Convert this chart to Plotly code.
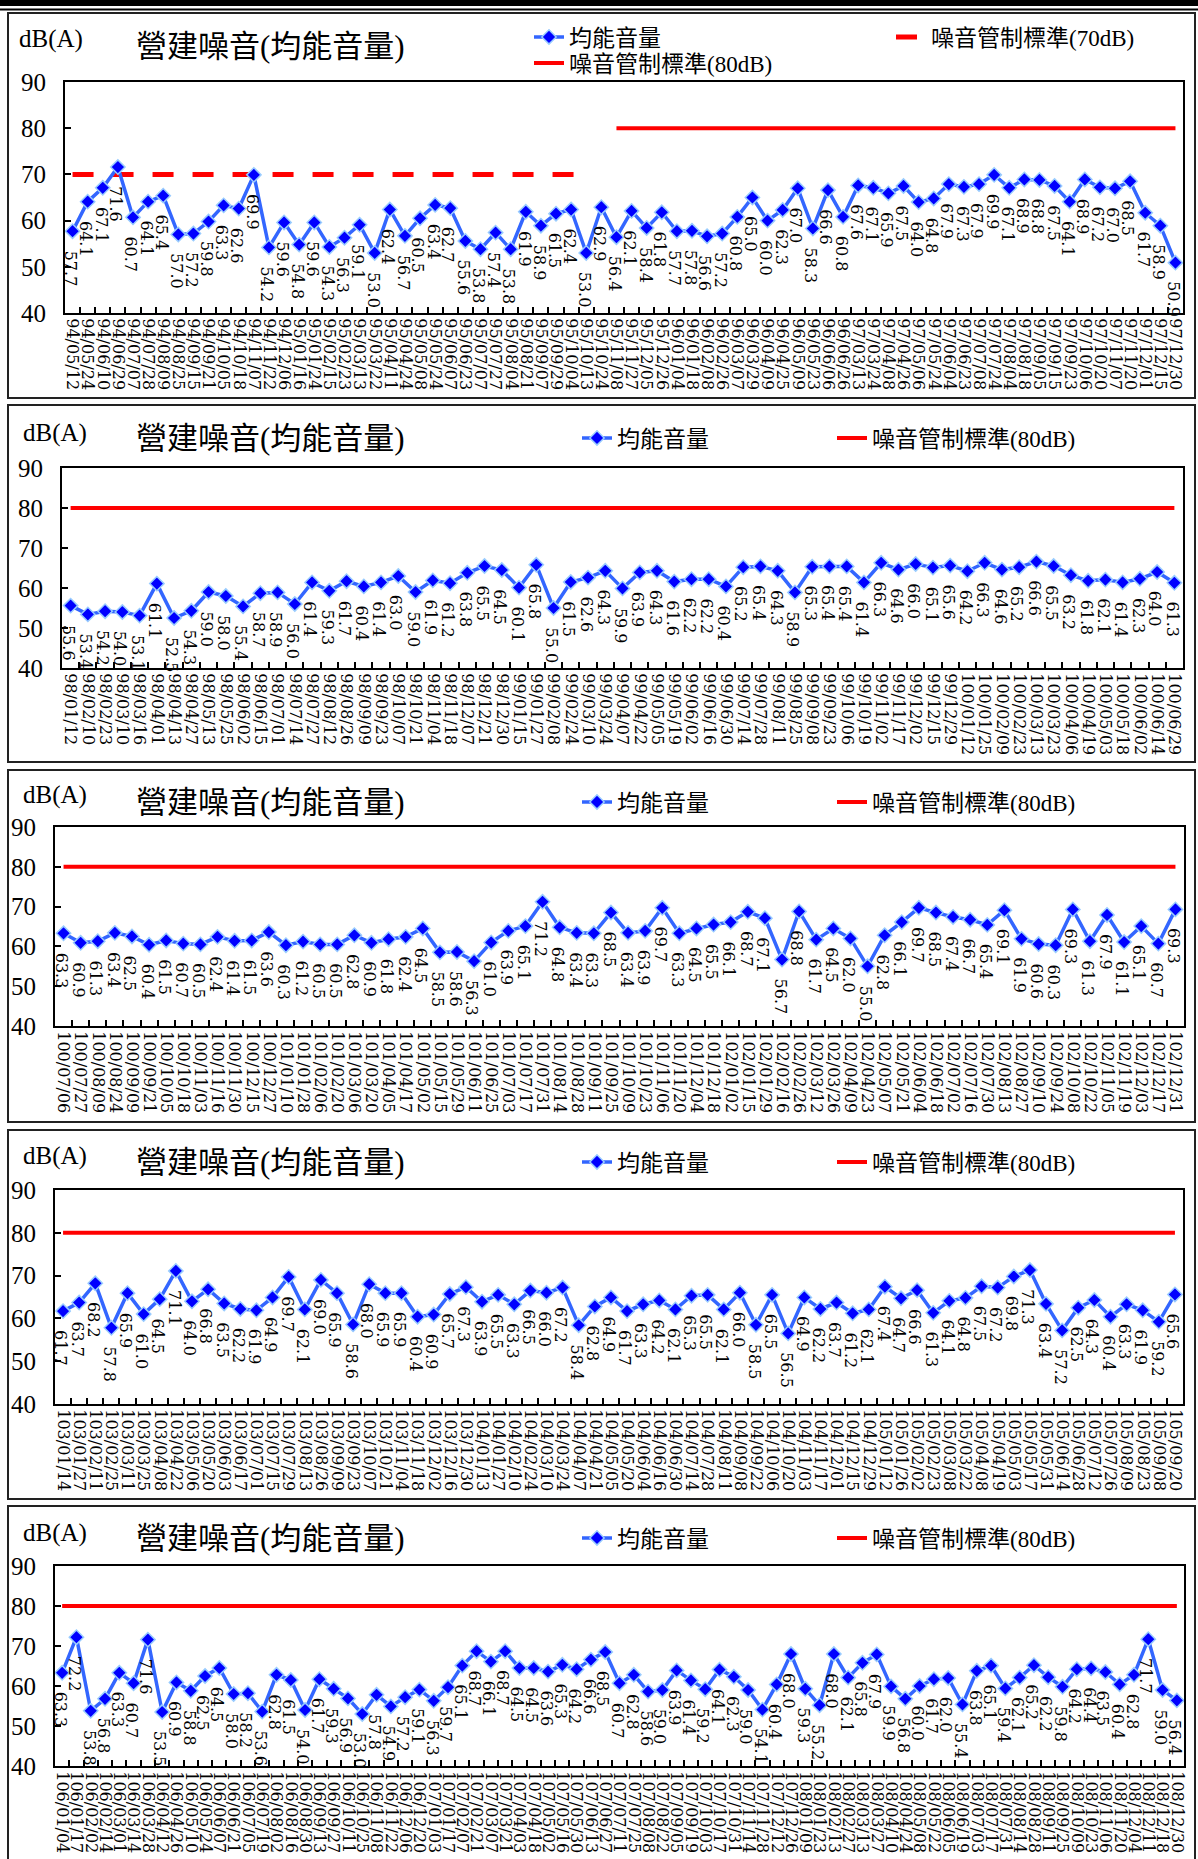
import plotly.graph_objects as go

W, H = 1198, 1859

# ---------------- data ----------------
dates1 = ["94/05/12","94/05/24","94/06/10","94/06/29","94/07/07","94/07/28","94/08/09","94/08/25","94/09/15","94/09/21",
          "94/10/05","94/10/18","94/11/07","94/11/22","94/12/06","95/01/16","95/01/24","95/02/15","95/02/23","95/03/13",
          "95/03/22","95/04/11","95/04/24","95/05/08","95/05/24","95/06/07","95/06/23","95/07/07","95/07/27","95/08/04",
          "95/08/21","95/09/07","95/09/29","95/10/04","95/10/13","95/10/24",
          "95/11/08","95/11/27","95/12/05","95/12/26","96/01/04","96/01/18","96/02/08","96/02/26","96/03/07","96/03/29",
          "96/04/09","96/04/25","96/05/09","96/05/23","96/06/06","96/06/26","97/03/13","97/03/24","97/04/08","97/04/26",
          "97/05/06","97/05/24","97/06/04","97/06/23","97/07/08","97/07/24","97/08/04","97/08/18","97/09/05","97/09/15",
          "97/09/23","97/10/06","97/10/20","97/11/07","97/11/20","97/12/01","97/12/15","97/12/30"]
vals1 = [57.7,64.1,67.1,71.6,60.7,64.1,65.4,57.0,57.2,59.8,63.3,62.6,69.9,54.2,59.6,54.8,59.6,54.3,56.3,59.1,
         53.0,62.4,56.7,60.5,63.4,62.7,55.6,53.8,57.4,53.8,61.9,58.9,61.5,62.4,53.0,62.9,
         56.4,62.1,58.4,61.8,57.7,57.8,56.6,57.2,60.8,65.0,60.0,62.3,67.0,58.3,66.6,60.8,67.6,67.1,65.9,67.5,
         64.0,64.8,67.9,67.3,67.9,69.9,67.1,68.9,68.8,67.5,64.1,68.9,67.2,67.0,68.5,61.7,58.9,50.9]
std70_1 = [70]*35 + [None]*39
std80_1 = [None]*36 + [80]*38

dates2 = ["98/01/12","98/02/10","98/02/23","98/03/10","98/03/16","98/04/01","98/04/13","98/04/27","98/05/13","98/05/25",
          "98/06/02","98/06/15","98/07/01","98/07/14","98/07/27","98/08/12","98/08/26","98/09/09","98/09/23","98/10/07",
          "98/10/21","98/11/04","98/11/18","98/12/07","98/12/21","98/12/30","99/01/15","99/01/27","99/02/08","99/02/24",
          "99/03/10","99/03/24","99/04/07","99/04/22","99/05/05","99/05/19","99/06/02","99/06/16","99/06/30","99/07/14",
          "99/07/28","99/08/11","99/08/25","99/09/08","99/09/23","99/10/06","99/10/19","99/11/02","99/11/17","99/12/02",
          "99/12/15","99/12/29","100/01/12","100/01/25","100/02/09","100/02/23","100/03/13","100/03/23","100/04/06","100/04/19",
          "100/05/03","100/05/18","100/06/02","100/06/14","100/06/29"]
vals2 = [55.6,53.4,54.2,54.0,53.1,61.1,52.5,54.3,59.0,58.0,55.4,58.7,58.9,56.0,61.4,59.3,61.7,60.4,61.4,63.0,
         59.0,61.9,61.2,63.8,65.5,64.5,60.1,65.8,55.0,61.5,62.6,
         64.3,59.9,63.9,64.3,61.6,62.2,62.2,60.4,65.2,65.4,64.3,58.9,65.3,65.4,65.4,61.4,66.3,64.6,66.0,65.1,
         65.6,64.2,66.3,64.6,65.2,66.6,65.5,63.2,61.8,62.1,61.4,62.3,64.0,61.3]

dates3 = ["100/07/06","100/07/27","100/08/09","100/08/24","100/09/09","100/09/21","100/10/05","100/10/18","100/11/03","100/11/16",
          "100/11/30","100/12/15","100/12/27","101/01/10","101/01/28","101/02/06","101/02/20","101/03/06","101/03/20","101/04/05",
          "101/04/17","101/05/02","101/05/15","101/05/29","101/06/11","101/06/25","101/07/03","101/07/17","101/07/31","101/08/14",
          "101/08/28","101/09/11","101/09/25","101/10/09","101/10/23","101/11/06","101/11/20","101/12/04","101/12/18","102/01/02",
          "102/01/15","102/01/29","102/02/16","102/02/26","102/03/12","102/03/26","102/04/09","102/04/23","102/05/07","102/05/21",
          "102/06/04","102/06/18","102/07/02","102/07/16","102/07/30","102/08/13","102/08/27","102/09/10","102/09/24","102/10/08",
          "102/10/22","102/11/05","102/11/19","102/12/03","102/12/17","102/12/31"]
vals3 = [63.3,60.9,61.3,63.4,62.5,60.4,61.5,60.7,60.5,62.4,61.4,61.5,63.6,60.3,61.2,60.5,60.5,62.8,60.9,61.8,
         62.4,64.5,58.5,58.6,56.3,61.0,63.9,65.1,71.2,64.8,63.4,63.3,68.5,63.4,63.9,69.7,63.3,64.5,65.5,66.1,
         68.7,67.1,56.7,68.8,61.7,64.5,62.0,55.0,62.8,66.1,69.7,68.5,67.4,66.7,65.4,69.1,61.9,60.6,60.3,69.3,
         61.3,67.9,61.1,65.1,60.7,69.3]

dates4 = ["103/01/14","103/01/27","103/02/11","103/02/25","103/03/11","103/03/25","103/04/08","103/04/22","103/05/06","103/05/20",
          "103/06/03","103/06/17","103/07/01","103/07/15","103/07/29","103/08/13","103/08/26","103/09/09","103/09/23","103/10/07",
          "103/10/21","103/11/04","103/11/18","103/12/02","103/12/16","103/12/30","104/01/13","104/01/27","104/02/10","104/02/24",
          "104/03/10","104/03/24","104/04/07","104/04/21","104/05/05","104/05/20","104/06/04","104/06/16","104/06/30","104/07/14",
          "104/07/28","104/08/11","104/09/08","104/09/22","104/10/06","104/10/20","104/11/03","104/11/17","104/12/01","104/12/15",
          "104/12/29","105/01/12","105/01/26","105/02/02","105/02/23","105/03/08","105/03/22","105/04/08","105/04/19","105/05/03",
          "105/05/17","105/05/31","105/06/14","105/06/28","105/07/12","105/07/26","105/08/09","105/08/23","105/09/08","105/09/20"]
vals4 = [61.7,63.7,68.2,57.8,65.9,61.0,64.5,71.1,64.0,66.8,63.5,62.2,61.9,64.9,69.7,62.1,69.0,65.9,58.6,68.0,
         65.9,65.9,60.4,60.9,65.7,67.3,63.9,65.5,63.3,66.5,66.0,67.2,58.4,62.8,64.9,61.7,63.3,64.2,62.1,65.3,
         65.5,62.1,66.0,58.5,65.5,56.5,64.9,62.2,63.7,61.2,62.1,67.4,64.7,66.6,61.3,64.1,64.8,67.5,67.2,69.8,
         71.3,63.4,57.2,62.5,64.3,60.4,63.3,61.9,59.2,65.6]

dates5 = ["106/01/04","106/01/17","106/02/02","106/02/14","106/03/01","106/03/14","106/03/28","106/04/12","106/04/26","106/05/10",
          "106/05/24","106/06/07","106/06/21","106/07/05","106/07/19","106/08/02","106/08/16","106/08/30","106/09/13","106/09/27",
          "106/10/11","106/10/25","106/11/08","106/11/22","106/12/06","106/12/20","107/01/03","107/01/17","107/02/07","107/02/21",
          "107/03/07","107/03/21","107/04/03","107/04/18","107/05/02","107/05/16","107/05/30","107/06/13","107/06/27","107/07/11",
          "107/07/25","107/08/08","107/08/22","107/09/05","107/09/19","107/10/03","107/10/17","107/10/31","107/11/14","107/11/28",
          "107/12/12","107/12/26","108/01/09","108/01/23","108/02/13","108/02/27","108/03/13","108/03/27","108/04/10","108/04/24",
          "108/05/08","108/05/22","108/06/05","108/06/19","108/07/03","108/07/17","108/07/31","108/08/14","108/08/28","108/09/11",
          "108/09/25","108/10/09","108/10/23","108/11/06","108/11/20","108/12/04","108/12/11","108/12/18","108/12/30"]
vals5 = [63.3,72.2,53.8,56.8,63.3,60.7,71.6,53.5,60.9,58.8,62.5,64.5,58.0,58.2,53.6,62.8,61.5,54.0,61.7,59.3,
         56.9,53.0,57.8,54.9,57.2,59.1,56.3,59.7,65.1,68.7,66.1,68.7,64.5,64.5,63.6,65.3,64.2,66.6,
         68.5,60.7,62.8,58.6,59.0,63.9,61.4,59.2,64.1,62.3,59.0,54.1,60.4,68.0,59.3,55.2,68.0,62.1,65.8,67.9,
         59.9,56.8,60.0,61.7,62.0,55.4,63.8,65.1,59.4,62.1,65.2,62.2,59.8,64.2,64.4,63.5,60.4,62.8,71.7,59.0,56.4]

y_ticks = [40, 50, 60, 70, 80, 90]
title_text = "營建噪音(均能音量)"
unit_text = "dB(A)"
name_leq = "均能音量"
name_70 = "噪音管制標準(70dB)"
name_80 = "噪音管制標準(80dB)"

# ---------------- helpers ----------------
def px(x):
    return x / W

def py(y):
    return 1 - y / H

CJK = "Liberation Serif, Noto Sans CJK TC"
LINE_BLUE = "#3366FF"
MARK_BLUE = "#0000FF"
MARK_EDGE = "#99CCFF"
RED = "#FF0000"

panels = [
    dict(dates=dates1, vals=vals1, std80=std80_1, std70=std70_1,
         xd=(65, 1183), yd=(82, 313), frame=(13, 398), unit_y=39, title_y=47,
         leg_leq=(529, 37), leg_80=(529, 63), leg_70=(891, 37)),
    dict(dates=dates2, vals=vals2, std80=[80]*len(vals2), std70=None,
         xd=(62, 1183), yd=(468, 668), frame=(405, 762), unit_y=433, title_y=438,
         leg_leq=(577, 438), leg_80=(832, 438)),
    dict(dates=dates3, vals=vals3, std80=[80]*len(vals3), std70=None,
         xd=(55, 1184), yd=(827, 1026), frame=(770, 1122), unit_y=795, title_y=802,
         leg_leq=(577, 802), leg_80=(832, 802)),
    dict(dates=dates4, vals=vals4, std80=[80]*len(vals4), std70=None,
         xd=(55, 1183), yd=(1190, 1404), frame=(1130, 1499), unit_y=1156, title_y=1162,
         leg_leq=(577, 1162), leg_80=(832, 1162)),
    dict(dates=dates5, vals=vals5, std80=[80]*len(vals5), std70=None,
         xd=(55, 1184), yd=(1566, 1766), frame=(1506, 1870), unit_y=1533, title_y=1538,
         leg_leq=(577, 1538), leg_80=(832, 1538)),
]

fig = go.Figure()
layout = dict(width=W, height=H, autosize=False,
              margin=dict(l=0, r=0, t=0, b=0, pad=0),
              paper_bgcolor="white", plot_bgcolor="white",
              showlegend=True)
annotations = []
shapes = []

# top decorative bars
shapes.append(dict(type="rect", xref="paper", yref="paper", x0=0, x1=1, y0=py(6), y1=1,
                   fillcolor="black", line=dict(width=0), layer="above"))
shapes.append(dict(type="line", xref="paper", yref="paper", x0=0, x1=1, y0=py(9.5), y1=py(9.5),
                   line=dict(color="black", width=2), layer="above"))

leg_count = 0

def new_legend(pos):
    global leg_count
    leg_count += 1
    name = "legend" if leg_count == 1 else f"legend{leg_count}"
    layout[name] = dict(x=px(pos[0]), y=py(pos[1]), xanchor="left", yanchor="middle",
                        orientation="v", bgcolor="rgba(0,0,0,0)", borderwidth=0,
                        itemwidth=30, tracegroupgap=0,
                        font=dict(family=CJK, size=23, color="black"))
    return name

for i, p in enumerate(panels):
    k = i + 1
    xa = "x" if k == 1 else f"x{k}"
    ya = "y" if k == 1 else f"y{k}"
    xkey = "xaxis" if k == 1 else f"xaxis{k}"
    ykey = "yaxis" if k == 1 else f"yaxis{k}"
    n = len(p["dates"])
    assert len(p["vals"]) == n, (k, n, len(p["vals"]))

    layout[xkey] = dict(domain=[px(p["xd"][0]), px(p["xd"][1])], anchor=ya,
                        type="category", categoryorder="array", categoryarray=p["dates"],
                        range=[-0.5, n - 0.5], tickmode="linear", tick0=0, dtick=1,
                        showline=True, mirror=True, linecolor="black", linewidth=2,
                        ticks="inside", ticklen=6, tickwidth=1.5, tickcolor="black",
                        tickson="boundaries", tickangle=90,
                        tickfont=dict(family="DejaVu Serif", size=16, color="black"),
                        showgrid=False, zeroline=False, fixedrange=True, automargin=False)
    layout[ykey] = dict(domain=[py(p["yd"][1]), py(p["yd"][0])], anchor=xa,
                        range=[40, 90], tickmode="array", tickvals=y_ticks,
                        ticktext=[str(t) for t in y_ticks],
                        showline=True, mirror=True, linecolor="black", linewidth=2,
                        ticks="inside", ticklen=6, tickwidth=1.5, tickcolor="black",
                        tickfont=dict(family="Liberation Serif", size=25, color="black"),
                        ticklabelstandoff=12,
                        showgrid=False, zeroline=False, fixedrange=True, automargin=False)

    leg_leq = new_legend(p["leg_leq"])
    if p["std70"] is not None:
        leg70 = new_legend(p["leg_70"])
    leg80 = new_legend(p["leg_80"])

    if p["std70"] is not None:
        fig.add_trace(go.Scatter(x=p["dates"], y=p["std70"], xaxis=xa, yaxis=ya, mode="lines",
                                 name=name_70, legend=leg70, connectgaps=False,
                                 line=dict(color=RED, width=5, dash="21px,19px"),
                                 hoverinfo="skip"))
    fig.add_trace(go.Scatter(x=p["dates"], y=p["std80"], xaxis=xa, yaxis=ya, mode="lines",
                             name=name_80, legend=leg80, connectgaps=False,
                             line=dict(color=RED, width=4), hoverinfo="skip"))
    fig.add_trace(go.Scatter(x=p["dates"], y=p["vals"], xaxis=xa, yaxis=ya, mode="lines+markers",
                             name=name_leq, legend=leg_leq,
                             line=dict(color=LINE_BLUE, width=3.5),
                             marker=dict(symbol="diamond", size=11, color=MARK_BLUE,
                                         line=dict(color=MARK_EDGE, width=1.5)),
                             cliponaxis=False))

    # rotated data labels
    for d, v in zip(p["dates"], p["vals"]):
        annotations.append(dict(x=d, y=v, xref=xa, yref=ya, text=f"{v:.1f}", textangle=90,
                                showarrow=False, xanchor="center", yanchor="top",
                                yshift=-17, xshift=-2,
                                font=dict(family="DejaVu Serif", size=16, color="black")))

    # panel frame
    shapes.append(dict(type="rect", xref="paper", yref="paper",
                       x0=px(8), x1=px(1195), y0=py(p["frame"][1]), y1=py(p["frame"][0]),
                       line=dict(color="#222222", width=2), fillcolor="rgba(0,0,0,0)", layer="below"))

    # unit and title
    annotations.append(dict(x=px(17 if k == 1 else 21), y=py(p["unit_y"]), xref="paper", yref="paper",
                            text=unit_text, showarrow=False, xanchor="left", yanchor="middle",
                            font=dict(family="Liberation Serif", size=25, color="black")))
    annotations.append(dict(x=px(134), y=py(p["title_y"]), xref="paper", yref="paper",
                            text=title_text, showarrow=False, xanchor="left", yanchor="middle",
                            font=dict(family=CJK, size=31, color="black")))

layout["annotations"] = annotations
layout["shapes"] = shapes
fig.update_layout(**layout)

fig.write_html("out.html", config={"displayModeBar": False},
               post_script="document.body.style.margin='0px';")
